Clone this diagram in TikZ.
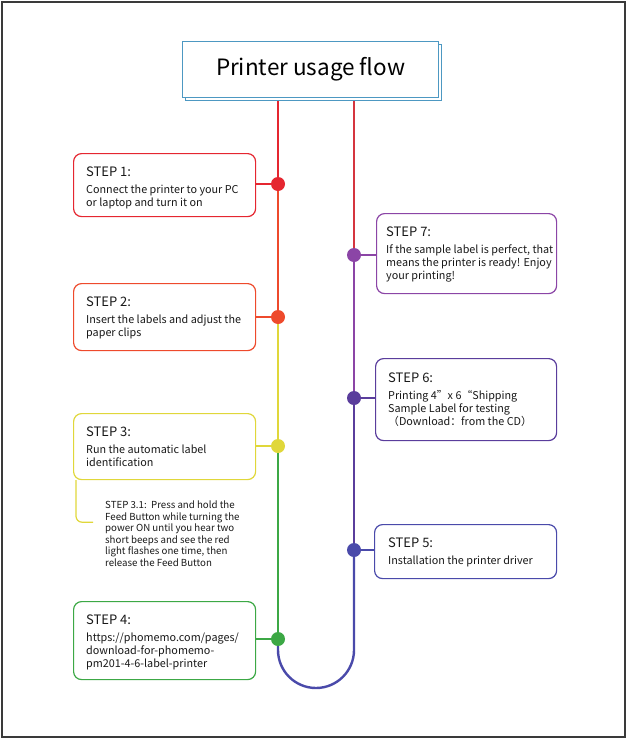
\documentclass[tikz,border=0pt]{standalone}
\usepackage{fontspec}
\setmainfont{Noto Sans CJK SC}
\usetikzlibrary{backgrounds}
\definecolor{cA}{HTML}{E52630}
\definecolor{cB}{HTML}{EE4A2C}
\definecolor{cC}{HTML}{E0D73A}
\definecolor{cD}{HTML}{3CA845}
\definecolor{cE}{HTML}{4A4AAA}
\definecolor{cF}{HTML}{5A3D9C}
\definecolor{cG}{HTML}{8B45A6}
\definecolor{cR}{HTML}{D5353F}
\definecolor{cT}{HTML}{4D98C2}
\definecolor{cFrame}{HTML}{3A3A3A}
\newcommand\stephead[1]{{\fontsize{13}{13}\selectfont #1}}
\begin{document}
\begin{tikzpicture}[x=1pt,y=-1pt,
  stepbox/.style={draw=#1, line width=1.2pt, rounded corners=8pt, fill=white, anchor=north west, inner sep=0pt},
  titlebox/.style={draw=cT, line width=1.3pt, fill=white, anchor=north west, inner sep=0pt, minimum width=256pt, minimum height=56pt},
  txt/.style={anchor=north west, inner sep=0pt, align=left, font=\fontsize{10.8}{13}\selectfont, text=black!90},
  smalltxt/.style={anchor=north west, inner sep=0pt, align=left, font=\fontsize{9.7}{11.6}\selectfont, text=black!90},
  dot/.style={circle, fill=#1, minimum size=14pt, inner sep=0pt},
  mainline/.style={draw=#1, line width=2.4pt},
  link/.style={draw=#1, line width=2pt}]
\useasboundingbox (0,0) rectangle (627,739);
\draw[cFrame, line width=2pt] (2,2) rectangle (624.5,736.5);

% title
\node[titlebox] (titleshadow) at (185,44) {};
\node[titlebox] (title) at (182,41) {\fontsize{22.5}{26}\selectfont Printer usage flow};

% boxes
\node[stepbox=cA, minimum width=182pt, minimum height=63pt] (b1) at (73,153) {};
\node[stepbox=cB, minimum width=182pt, minimum height=67pt] (b2) at (73,283) {};
\node[stepbox=cC, minimum width=182pt, minimum height=66pt] (b3) at (73,413) {};
\node[stepbox=cD, minimum width=182pt, minimum height=78pt] (b4) at (73,601) {};
\node[stepbox=cG, minimum width=180pt, minimum height=80pt] (b7) at (376,213) {};
\node[stepbox=cF, minimum width=181pt, minimum height=82pt] (b6) at (375,358) {};
\node[stepbox=cE, minimum width=182pt, minimum height=54pt] (b5) at (374,524) {};

% dots
\node[dot=cA] (d1) at (278,184) {};
\node[dot=cB] (d2) at (278,317) {};
\node[dot=cC] (d3) at (278,446) {};
\node[dot=cD] (d4) at (278,639) {};
\node[dot=cG] (d7) at (354,255) {};
\node[dot=cF] (d6) at (354,398) {};
\node[dot=cE] (d5) at (354,550) {};
\coordinate (ul) at (278,650);

\begin{scope}[on background layer]
\draw[mainline=cA] (d1 |- titleshadow.south) -- (d1);
\draw[mainline=cB] (d1) -- (d2);
\draw[mainline=cC] (d2) -- (d3);
\draw[mainline=cD] (d3) -- (d4);
\draw[mainline=cE] (d4) -- (ul) arc[start angle=180, end angle=0, radius=38] -- (d5);
\draw[mainline=cR] (d7 |- titleshadow.south) -- (d7);
\draw[mainline=cG] (d7) -- (d6);
\draw[mainline=cF] (d6) -- (d5);
\draw[link=cA] (b1.east |- d1) -- (d1);
\draw[link=cB] (b2.east |- d2) -- (d2);
\draw[link=cC] (b3.east |- d3) -- (d3);
\draw[link=cD] (b4.east |- d4) -- (d4);
\draw[link=cG] (b7.west |- d7) -- (d7);
\draw[link=cF] (b6.west |- d6) -- (d6);
\draw[link=cE] (b5.west |- d5) -- (d5);
\end{scope}

% bracket of step 3.1
\draw[cC, line width=1.2pt, rounded corners=6pt] ([xshift=3pt]b3.south west) -- ++(0,42) -- ++(17,0) coordinate (brk);

% texts
\node[txt] (t1) at (86,166.5) {\stephead{STEP 1:}\\[4pt]Connect the printer to your PC\\or laptop and turn it on};
\node[txt] (t2) at (86,297) {\stephead{STEP 2:}\\[4pt]Insert the labels and adjust the\\paper clips};
\node[txt] (t3) at (86,426.5) {\stephead{STEP 3:}\\[4pt]Run the automatic label\\identification};
\node[smalltxt] (t31) at (105,500.5) {STEP 3.1:~~Press and hold the\\Feed Button while turning the\\power ON until you hear two\\short beeps and see the red\\light flashes one time, then\\release the Feed Button};
\node[txt] (t4) at (86,614.5) {\stephead{STEP 4:}\\[4pt]https://phomemo.com/pages/\\download-for-phomemo-\\pm201-4-6-label-printer};
\node[txt] (t7) at (386,226.5) {\stephead{STEP 7:}\\[4pt]If the sample label is perfect, that\\means the printer is ready! Enjoy\\your printing!};
\node[txt] (t6) at (388,373) {\stephead{STEP 6:}\\[4pt]Printing 4”x 6“Shipping\\Sample Label for testing\\（Download：from the CD）};
\node[txt] (t5) at (388,537.5) {\stephead{STEP 5:}\\[4pt]Installation the printer driver};
\end{tikzpicture}
\end{document}
